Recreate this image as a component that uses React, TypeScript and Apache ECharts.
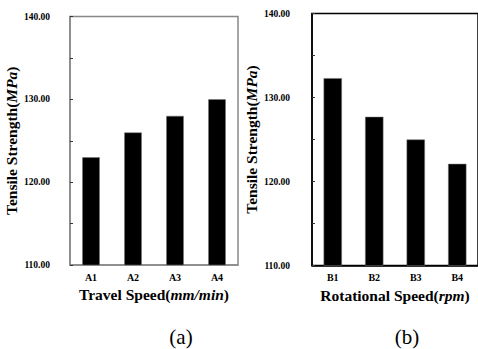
import React, { useEffect, useRef } from "react";
import * as echarts from "echarts";

const catsA = ["A1", "A2", "A3", "A4"];
const valsA = [123.0, 126.0, 128.0, 130.0];
const catsB = ["B1", "B2", "B3", "B4"];
const valsB = [132.3, 127.7, 125.0, 122.1];
const yMin = 110;
const yMax = 140;
const yStep = 10;

const FONT = "Liberation Serif";

function yAxis(gridIndex: number, color: string, margin: number, gap: number) {
  return {
    type: "value",
    gridIndex,
    min: yMin,
    max: yMax,
    interval: yStep,
    name: "{b|Tensile Strength(}{i|MPa}{b|)}",
    nameLocation: "middle",
    nameGap: gap,
    nameRotate: 90,
    nameTextStyle: {
      fontFamily: FONT,
      rich: {
        b: { fontFamily: FONT, fontWeight: "bold", fontSize: 15.5, color: "#000" },
        i: { fontFamily: FONT, fontWeight: "bold", fontStyle: "italic", fontSize: 15.5, color: "#000" },
      },
    },
    axisLine: { show: true, lineStyle: { color, width: 1.5 } },
    axisTick: { show: true, inside: true, length: 3, lineStyle: { color: "#333" } },
    minorTick: { show: true, splitNumber: 2, length: 3, lineStyle: { color: "#333" } },
    splitLine: { show: false },
    axisLabel: {
      margin,
      fontFamily: FONT,
      fontWeight: "bold",
      fontSize: 9.5,
      color: "#000",
      formatter: (v: number) => v.toFixed(2),
    },
  };
}

function xAxis(gridIndex: number, cats: string[], color: string, nameMain: string, nameIt: string) {
  return {
    type: "category",
    gridIndex,
    data: cats,
    name: `{b|${nameMain}(}{i|${nameIt}}{b|)}`,
    nameLocation: "middle",
    nameGap: 21,
    nameTextStyle: {
      fontFamily: FONT,
      rich: {
        b: { fontFamily: FONT, fontWeight: "bold", fontSize: 15.5, color: "#000" },
        i: { fontFamily: FONT, fontWeight: "bold", fontStyle: "italic", fontSize: 15.5, color: "#000" },
      },
    },
    axisLine: { show: true, lineStyle: { color, width: 1.5 } },
    axisTick: { show: false },
    axisLabel: {
      margin: 7,
      fontFamily: FONT,
      fontWeight: "bold",
      fontSize: 10,
      color: "#000",
    },
  };
}

export default function App() {
  const ref = useRef<HTMLDivElement>(null);
  useEffect(() => {
    if (!ref.current) return;
    const chart = echarts.init(ref.current, undefined, { renderer: "svg" });
    chart.setOption({
      animation: false,
      backgroundColor: "#fff",
      textStyle: { fontFamily: FONT },
      grid: [
        { left: 70, top: 16.5, width: 168, height: 248.5, show: true, borderColor: "#888", borderWidth: 1.5, containLabel: false },
        { left: 312, top: 13.5, width: 170, height: 252, show: true, borderColor: "#000", borderWidth: 1.5, containLabel: false },
      ],
      xAxis: [
        xAxis(0, catsA, "#888", "Travel Speed", "mm/min"),
        xAxis(1, catsB, "#000", "Rotational Speed", "rpm"),
      ],
      yAxis: [yAxis(0, "#888", 20, 47), yAxis(1, "#000", 22, 49)],
      series: [
        {
          type: "bar",
          xAxisIndex: 0,
          yAxisIndex: 0,
          data: valsA,
          barWidth: 17.5,
          itemStyle: { color: "#000", borderColor: "#777", borderWidth: 0.5 },
        },
        {
          type: "bar",
          xAxisIndex: 1,
          yAxisIndex: 1,
          data: valsB,
          barWidth: 18.3,
          itemStyle: { color: "#000", borderColor: "#777", borderWidth: 0.5 },
        },
      ],
      graphic: [
        {
          type: "text",
          x: 181,
          y: 337,
          style: { text: "(a)", fontFamily: FONT, fontSize: 21, fill: "#000", textAlign: "center", textVerticalAlign: "middle" },
        },
        {
          type: "text",
          x: 407,
          y: 337,
          style: { text: "(b)", fontFamily: FONT, fontSize: 21, fill: "#000", textAlign: "center", textVerticalAlign: "middle" },
        },
      ],
    });
    return () => chart.dispose();
  }, []);
  return <div ref={ref} style={{ width: 478, height: 349, position: "absolute", left: 0, top: 0 }} />;
}
